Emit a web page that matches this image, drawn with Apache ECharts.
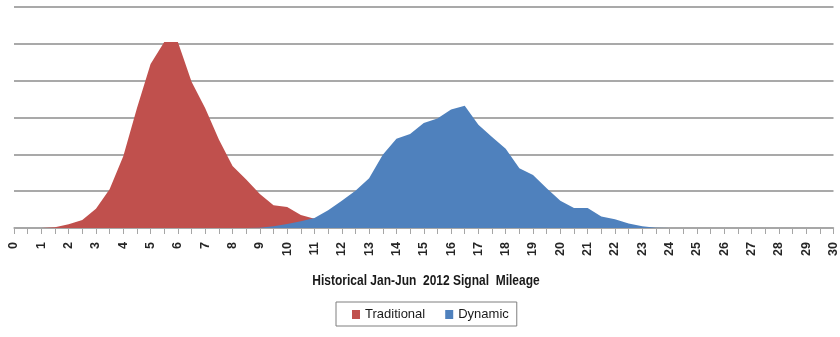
<!DOCTYPE html>
<html>
<head>
<meta charset="utf-8">
<script src="https://cdn.jsdelivr.net/npm/echarts@6/dist/echarts.min.js"></script>
<style>html,body{margin:0;padding:0;background:#fff;}#c{width:840px;height:337px;}</style>
</head>
<body>
<div id="c"></div>
<script>
const categories = ['0','0.5','1','1.5','2','2.5','3','3.5','4','4.5','5','5.5','6','6.5','7','7.5','8','8.5','9','9.5','10','10.5','11','11.5','12','12.5','13','13.5','14','14.5','15','15.5','16','16.5','17','17.5','18','18.5','19','19.5','20','20.5','21','21.5','22','22.5','23','23.5','24','24.5','25','25.5','26','26.5','27','27.5','28','28.5','29','29.5','30'];
const traditional = [0,0,0,0.02,0.1,0.22,0.52,1.05,1.95,3.25,4.45,5.05,5.05,3.97,3.25,2.4,1.68,1.32,0.92,0.62,0.57,0.35,0.25,0.15,0.08,0.04,0.02,0,0,0,0,0,0,0,0,0,0,0,0,0,0,0,0,0,0,0,0,0,0,0,0,0,0,0,0,0,0,0,0,0,0];
const dynamic = [0,0,0,0,0,0,0,0,0,0,0,0,0,0,0,0,0,0,0.01,0.05,0.11,0.18,0.27,0.48,0.74,1.01,1.35,1.99,2.42,2.55,2.85,2.97,3.22,3.32,2.8,2.47,2.15,1.62,1.44,1.08,0.74,0.54,0.54,0.31,0.24,0.12,0.05,0.01,0,0,0,0,0,0,0,0,0,0,0,0,0];
const seriesNames = ['Traditional','Dynamic'];
const axisTitle = 'Historical Jan-Jun  2012 Signal  Mileage';
const FONT = "'Liberation Sans','DejaVu Sans',sans-serif";

const chart = echarts.init(document.getElementById('c'), null, {renderer:'canvas'});
chart.setOption({
  animation: false,
  backgroundColor: '#ffffff',
  grid: {left: 14, right: 3, top: 7, bottom: 109, containLabel: false},
  legend: {
    data: seriesNames,
    left: 336, top: 302,
    orient: 'horizontal',
    icon: 'rect',
    itemWidth: 8, itemHeight: 9,
    itemGap: 20, itemTextGap: 3,
    padding: [6, 8, 5, 16],
    borderColor: '#7f7f7f', borderWidth: 1,
    textStyle: {fontFamily: FONT, fontSize: 13, color: '#1a1a1a'}
  },
  graphic: [{
    type: 'text',
    x: 426, y: 281,
    scaleY: 1.28,
    originX: 0, originY: 0,
    style: {text: axisTitle, font: "bold 12px 'Liberation Sans', sans-serif", fill: '#1a1a1a', align: 'center', verticalAlign: 'middle'}
  }],
  xAxis: {
    type: 'category',
    data: categories,
    boundaryGap: false,
    axisLine: {show: true, lineStyle: {color: '#a6a6a6', width: 1.5}},
    axisTick: {show: true, interval: 0, length: 6, lineStyle: {color: '#a6a6a6', width: 1}},
    axisLabel: {interval: 1, rotate: 90, margin: 14, fontFamily: FONT, fontSize: 12.5, fontWeight: 'bold', color: '#262626'},
    splitLine: {show: false}
  },
  yAxis: {
    type: 'value',
    min: 0, max: 6, interval: 1,
    axisLine: {show: false},
    axisTick: {show: false},
    axisLabel: {show: false},
    splitLine: {show: true, lineStyle: {color: '#a9a9a9', width: 2}}
  },
  series: [
    {name: seriesNames[0], type: 'line', data: traditional, showSymbol: false, symbol: 'none',
     itemStyle: {color: '#c0504d'}, lineStyle: {width: 0}, areaStyle: {color: '#c0504d', opacity: 1}},
    {name: seriesNames[1], type: 'line', data: dynamic, showSymbol: false, symbol: 'none',
     itemStyle: {color: '#4f81bd'}, lineStyle: {width: 0}, areaStyle: {color: '#4f81bd', opacity: 1}}
  ]
});
</script>
</body>
</html>
